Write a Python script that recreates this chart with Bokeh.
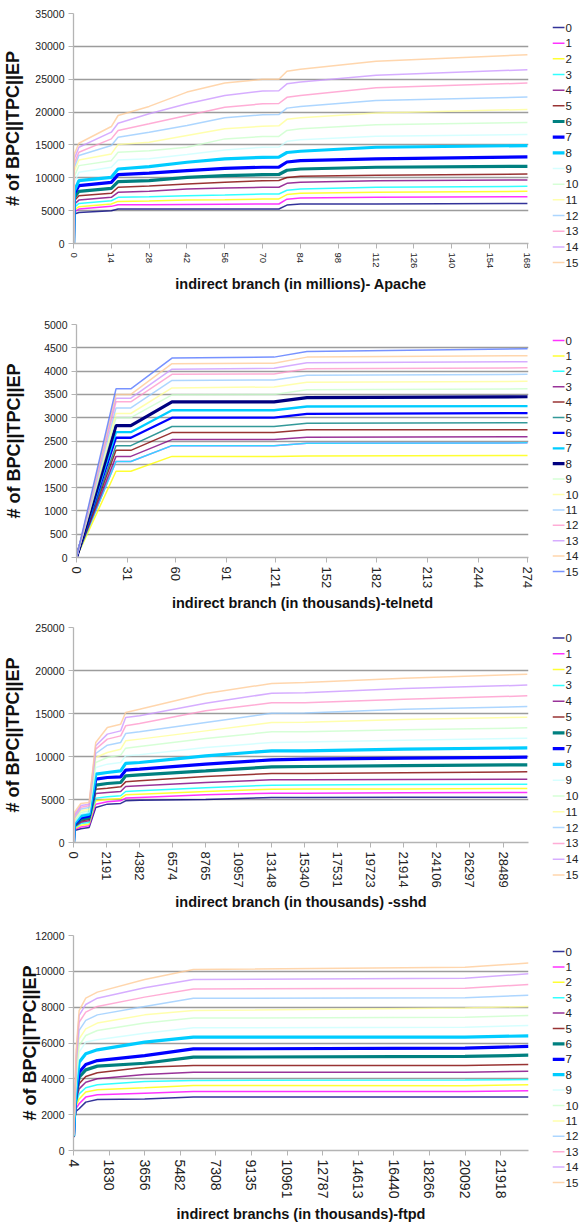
from bokeh.plotting import figure
from bokeh.models import Range1d, FixedTicker, ColumnDataSource
from bokeh.layouts import column, row
from bokeh.core.properties import value
from bokeh.embed import file_html
from bokeh.resources import INLINE

SANS = "Liberation Sans"

NAVY = "#000080"; MAGENTA = "#FF00FF"; YELLOW = "#FFFF00"; CYAN = "#00FFFF"
PURPLE = "#800080"; MAROON = "#800000"; TEAL = "#008080"; BLUE = "#0000FF"
SKY = "#00CCFF"; LTTURQ = "#CCFFFF"; LTGREEN = "#CCFFCC"; LTYELLOW = "#FFFF99"
PALEBLUE = "#99CCFF"; ROSE = "#FF99CC"; LAVENDER = "#CC99FF"; TAN = "#FFCC99"
MIDBLUE = "#5577FF"

legend_labels = [str(i) for i in range(16)]
y_title = "# of BPC||TPC||EP"

# ---------------- Panel 1 : Apache (x in millions) ----------------
apache_title = "indirect branch (in millions)- Apache"
apache_xticks = [0, 14, 28, 42, 56, 70, 84, 98, 112, 126, 140, 154, 168]
apache_yticks = [0, 5000, 10000, 15000, 20000, 25000, 30000, 35000]
apache_x = [0, 0.3, 2, 14, 16.5, 28, 42, 56, 70, 76, 79, 84, 112, 168]
apache_y = [
    [0, 4500, 4730, 4990, 5240, 5240, 5240, 5240, 5240, 5250, 5850, 6000, 6000, 6100],
    [0, 4800, 5240, 5650, 5900, 5900, 5950, 5980, 6000, 6010, 6750, 6920, 7020, 7120],
    [0, 5100, 5600, 6000, 6410, 6450, 6610, 6660, 6770, 6780, 7450, 7630, 7780, 7940],
    [0, 5500, 6100, 6510, 7020, 7100, 7270, 7380, 7530, 7540, 8100, 8290, 8550, 8700],
    [0, 6000, 6610, 7020, 7780, 7950, 8290, 8440, 8550, 8560, 9150, 9310, 9560, 9660],
    [0, 6500, 7270, 7630, 8550, 8750, 9050, 9310, 9560, 9580, 10050, 10220, 10380, 10580],
    [0, 7000, 7940, 8390, 9410, 9560, 10070, 10330, 10480, 10500, 11150, 11340, 11600, 11750],
    [0, 7600, 8800, 9310, 10480, 10700, 11090, 11440, 11600, 11620, 12400, 12610, 12870, 13170],
    [0, 8000, 9560, 10070, 11340, 11700, 12360, 12870, 13120, 13150, 13850, 14040, 14650, 14900],
    [0, 9300, 10830, 11600, 12720, 12900, 13530, 14240, 14650, 14680, 15550, 15770, 16330, 16580],
    [0, 10200, 11850, 12610, 13890, 14100, 14650, 15920, 16280, 16300, 17200, 17450, 18060, 18410],
    [0, 11000, 12720, 13630, 15060, 15410, 16430, 17450, 17850, 17900, 18900, 19130, 19840, 20400],
    [0, 11600, 13380, 14900, 16180, 16940, 17960, 19130, 19580, 19620, 20600, 20860, 21770, 22280],
    [0, 12200, 13890, 15920, 17190, 18210, 19480, 20750, 21260, 21300, 22250, 22530, 23700, 24420],
    [0, 12900, 14650, 16940, 18310, 19740, 21260, 22530, 23190, 23250, 24300, 24570, 25590, 26450],
    [0, 13600, 15260, 17800, 19480, 20860, 23040, 24420, 24980, 25000, 26200, 26500, 27720, 28740],
]
apache_colors = [NAVY, MAGENTA, YELLOW, CYAN, PURPLE, MAROON, TEAL, BLUE, SKY,
                 LTTURQ, LTGREEN, LTYELLOW, PALEBLUE, ROSE, LAVENDER, TAN]

# ---------------- Panel 2 : telnetd (x in thousands) ----------------
telnet_title = "indirect branch (in thousands)-telnetd"
telnet_xticks = [0, 31, 60, 91, 121, 152, 182, 213, 244, 274]
telnet_yticks = [0, 500, 1000, 1500, 2000, 2500, 3000, 3500, 4000, 4500, 5000]
telnet_x = [0, 24, 33, 58, 120, 140, 274]
telnet_y = [
    [0, 2060, 2060, 2400, 2400, 2450, 2460],
    [0, 1850, 1850, 2170, 2170, 2180, 2190],
    [0, 2060, 2060, 2400, 2400, 2450, 2460],
    [0, 2170, 2170, 2530, 2530, 2580, 2590],
    [0, 2300, 2300, 2680, 2680, 2740, 2740],
    [0, 2400, 2400, 2810, 2810, 2880, 2890],
    [0, 2570, 2570, 3000, 3000, 3080, 3100],
    [0, 2690, 2690, 3160, 3160, 3240, 3250],
    [0, 2830, 2830, 3340, 3340, 3430, 3450],
    [0, 3000, 3000, 3490, 3500, 3600, 3620],
    [0, 3090, 3090, 3640, 3660, 3760, 3780],
    [0, 3210, 3210, 3800, 3810, 3910, 3930],
    [0, 3340, 3340, 3930, 3940, 4050, 4070],
    [0, 3420, 3420, 4040, 4060, 4180, 4200],
    [0, 3500, 3500, 4160, 4170, 4300, 4330],
    [0, 3620, 3620, 4280, 4300, 4420, 4480],
]
telnet_colors = [MAGENTA, YELLOW, CYAN, PURPLE, MAROON, TEAL, BLUE, SKY, NAVY,
                 LTGREEN, LTYELLOW, PALEBLUE, ROSE, LAVENDER, TAN, MIDBLUE]

# ---------------- Panel 3 : sshd (x in thousands) ----------------
sshd_title = "indirect branch (in thousands) -sshd"
sshd_xticks = [0, 2191, 4382, 6574, 8765, 10957, 13148, 15340, 17531, 19723,
               21914, 24106, 26297, 28489]
sshd_yticks = [0, 5000, 10000, 15000, 20000, 25000]
sshd_x = [0, 60, 485, 1035, 1475, 2245, 3130, 3460, 4382, 8765, 13148, 15340, 21914, 30100]
sshd_y = [
    [0, 1400, 1600, 1740, 4070, 4460, 4540, 4850, 4920, 5000, 5230, 5230, 5250, 5270],
    [0, 1500, 1800, 1940, 4460, 4730, 4850, 5160, 5230, 5540, 5740, 5740, 5780, 5810],
    [0, 1600, 2000, 2130, 4850, 5000, 5120, 5540, 5620, 5930, 6200, 6210, 6230, 6280],
    [0, 1700, 2200, 2330, 5160, 5310, 5430, 5930, 6010, 6360, 6670, 6700, 6750, 6780],
    [0, 1800, 2350, 2520, 5700, 5810, 5930, 6510, 6590, 6980, 7290, 7290, 7330, 7360],
    [0, 1900, 2500, 2710, 6200, 6320, 6470, 7050, 7170, 7670, 8020, 8020, 8120, 8220],
    [0, 2000, 2700, 2900, 6670, 6860, 6980, 7750, 7870, 8330, 8800, 8840, 8950, 9030],
    [0, 2100, 2900, 3100, 7360, 7560, 7640, 8410, 8530, 9110, 9610, 9690, 9800, 9920],
    [0, 2250, 3100, 3300, 7950, 8140, 8330, 9190, 9300, 10080, 10660, 10660, 10850, 11010],
    [0, 2350, 3300, 3490, 8720, 9110, 9300, 10080, 10190, 11050, 11630, 11700, 11900, 12130],
    [0, 2500, 3500, 3680, 9300, 9880, 10160, 10970, 11160, 12090, 12870, 12880, 13100, 13330],
    [0, 2650, 3700, 3880, 9880, 10470, 10850, 11820, 12020, 12980, 13950, 13970, 14300, 14570],
    [0, 2800, 3900, 4070, 10350, 11320, 11630, 12670, 12870, 13950, 15040, 15050, 15500, 15810],
    [0, 3000, 4100, 4260, 10850, 12020, 12400, 13570, 13840, 15310, 16240, 16260, 16670, 17050],
    [0, 3200, 4300, 4460, 11240, 12600, 12980, 14540, 14730, 16200, 17360, 17400, 17910, 18300],
    [0, 3490, 4540, 4650, 11630, 13370, 13760, 15120, 15500, 17330, 18490, 18600, 19110, 19570],
]
sshd_colors = apache_colors

# ---------------- Panel 4 : ftpd (x in thousands) ----------------
ftpd_title = "indirect branchs (in thousands)-ftpd"
ftpd_xticks = [4, 1830, 3656, 5482, 7308, 9135, 10961, 12787, 14613, 16440,
               18266, 20092, 21918]
ftpd_yticks = [0, 2000, 4000, 6000, 8000, 10000, 12000]
ftpd_x = [4, 60, 140, 293, 633, 1227, 3656, 6153, 20092, 23350]
ftpd_y = [
    [730, 1750, 2200, 2330, 2700, 2850, 2880, 2980, 2980, 2980],
    [740, 1800, 2350, 2610, 2980, 3110, 3200, 3290, 3290, 3330],
    [750, 1850, 2500, 2880, 3260, 3390, 3500, 3630, 3610, 3670],
    [760, 1900, 2650, 3160, 3500, 3670, 3850, 3910, 3940, 3960],
    [770, 1950, 2800, 3440, 3810, 4000, 4240, 4370, 4370, 4430],
    [780, 2000, 2950, 3720, 4130, 4340, 4650, 4740, 4740, 4800],
    [790, 2050, 3100, 4090, 4500, 4710, 4870, 5210, 5250, 5320],
    [800, 2100, 3300, 4370, 4800, 5020, 5300, 5670, 5710, 5810],
    [810, 2150, 3500, 4930, 5400, 5620, 6050, 6330, 6330, 6400],
    [820, 2200, 3800, 5490, 6050, 6180, 6550, 6850, 6880, 6980],
    [830, 2250, 4100, 5860, 6420, 6700, 7110, 7390, 7440, 7540],
    [840, 2300, 4400, 6230, 6790, 7110, 7570, 7810, 7960, 8040],
    [850, 2350, 4700, 6700, 7260, 7570, 8040, 8500, 8520, 8670],
    [860, 2400, 5000, 7160, 7720, 8040, 8560, 9010, 9060, 9270],
    [880, 2450, 5300, 7540, 8150, 8500, 9080, 9540, 9620, 9860],
    [900, 2500, 5600, 7810, 8500, 8840, 9540, 10100, 10230, 10460],
]
ftpd_colors = apache_colors


def widths_for(thick, medium):
    return [3.2 if i in thick else (2.3 if i in medium else 1.5) for i in range(16)]


def build(x, ys, colors, thick, medium, xticks, x0, x1, yticks, xtitle, H, top,
          bottom, left, xt_size, ylab_standoff, xlab_standoff):
    p = figure(width=552, height=H, output_backend="svg", toolbar_location=None,
               title=None,
               x_range=Range1d(x0, x1), y_range=Range1d(yticks[0], yticks[-1]),
               min_border_top=top, min_border_bottom=bottom,
               min_border_left=left, min_border_right=24)
    p.outline_line_color = None
    p.background_fill_color = "white"
    widths = widths_for(thick, medium)
    for i, (yv, c) in enumerate(zip(ys, colors)):
        a = 1.0 if (i in thick or i in medium) else 0.8
        p.line(x, yv, line_color=c, line_width=widths[i], line_alpha=a)

    p.xgrid.visible = False
    p.ygrid.ticker = FixedTicker(ticks=yticks)
    p.ygrid.grid_line_color = "#9c9c9c"
    p.ygrid.grid_line_width = 1.6

    p.xaxis.ticker = FixedTicker(ticks=xticks)
    p.xaxis.major_label_overrides = {t: str(t) for t in xticks}
    p.xaxis.major_label_orientation = "vertical"
    p.xaxis.major_label_text_font = SANS
    p.xaxis.major_label_text_font_size = xt_size
    p.xaxis.major_label_text_color = "#222222"
    p.xaxis.axis_label = xtitle
    p.xaxis.axis_label_text_font = SANS
    p.xaxis.axis_label_text_font_style = "bold"
    p.xaxis.axis_label_text_font_size = "14.5px"
    p.xaxis.axis_label_text_color = "#111111"
    p.xaxis.axis_label_standoff = xlab_standoff

    p.yaxis.ticker = FixedTicker(ticks=yticks)
    p.yaxis.major_label_overrides = {t: str(t) for t in yticks}
    p.yaxis.major_label_text_font = SANS
    p.yaxis.major_label_text_font_size = "10.5px"
    p.yaxis.major_label_text_color = "#222222"
    p.yaxis.axis_label = y_title
    p.yaxis.axis_label_text_font = SANS
    p.yaxis.axis_label_text_font_style = "bold"
    p.yaxis.axis_label_text_font_size = "18px"
    p.yaxis.axis_label_text_color = "#111111"
    p.yaxis.axis_label_standoff = ylab_standoff

    for ax in (p.xaxis, p.yaxis):
        ax.axis_line_color = "#b4b4b4"
        ax.axis_line_width = 1.3
        ax.major_tick_line_color = "#b4b4b4"
        ax.major_tick_out = 5
        ax.major_tick_in = 0
        ax.minor_tick_line_color = None
        ax.major_label_standoff = 4
    return p


f1 = build(apache_x, apache_y, apache_colors, [6, 7, 8], [], apache_xticks, 0, 168.4,
           apache_yticks, apache_title, 300, 13, 57, 73, "9.5px", 9, 5)
f2 = build(telnet_x, telnet_y, telnet_colors, [8], [6, 7], telnet_xticks, 0, 274.6,
           telnet_yticks, telnet_title, 315, 24, 58, 76, "13px", 17, 4)
f3 = build(sshd_x, sshd_y, sshd_colors, [6, 7, 8], [], sshd_xticks, 0, 30180,
           sshd_yticks, sshd_title, 300, 12, 73, 73, "13px", 9, 3)
f4 = build(ftpd_x, ftpd_y, ftpd_colors, [6, 7, 8], [], ftpd_xticks, 4, 23350,
           ftpd_yticks, ftpd_title, 310, 20, 75, 73, "14px", -8, 5)

# ---- legends: one narrow strip on the right; its y axis counts page rows from the top
PAGE_H = 1225
lg = figure(width=28, height=PAGE_H, output_backend="svg", toolbar_location=None,
            title=None, x_range=Range1d(0, 28), y_range=Range1d(PAGE_H, 0),
            x_axis_location=None, y_axis_location=None,
            min_border=0, min_border_left=0, min_border_right=0,
            min_border_top=0, min_border_bottom=0)
lg.outline_line_color = None
lg.xgrid.visible = False
lg.ygrid.visible = False

# (colours, thick, medium, panel top on page, first item centre, item step)
legend_specs = [
    (apache_colors, [6, 7, 8], [], 0, 27, 15.67),
    (telnet_colors, [8], [6, 7], 300, 40, 15.4),
    (sshd_colors, [6, 7, 8], [], 615, 22.5, 15.8),
    (ftpd_colors, [6, 7, 8], [], 915, 36, 15.4),
]
for colors, thick, medium, ptop, c0, step in legend_specs:
    rows = [ptop + c0 + i * step for i in range(16)]
    src = ColumnDataSource(dict(
        y=rows, x0=[0] * 16, x1=[12] * 16, xt=[13] * 16,
        color=colors, width=widths_for(thick, medium),
        alpha=[1.0 if (i in thick or i in medium) else 0.8 for i in range(16)],
        label=legend_labels))
    lg.segment(x0="x0", y0="y", x1="x1", y1="y", line_color="color",
               line_width="width", line_alpha="alpha", source=src)
    lg.text(x="xt", y="y", text="label", source=src, text_font=value(SANS),
            text_font_size=value("11.5px"), text_color="#222222",
            text_baseline="middle", text_align="left")

# each panel sits in its own row so the panels keep their own left margins
panels = column(row(f1), row(f2), row(f3), row(f4), spacing=0)
layout = row(panels, lg, spacing=0)
open("out.html", "w").write(file_html(layout, INLINE))
